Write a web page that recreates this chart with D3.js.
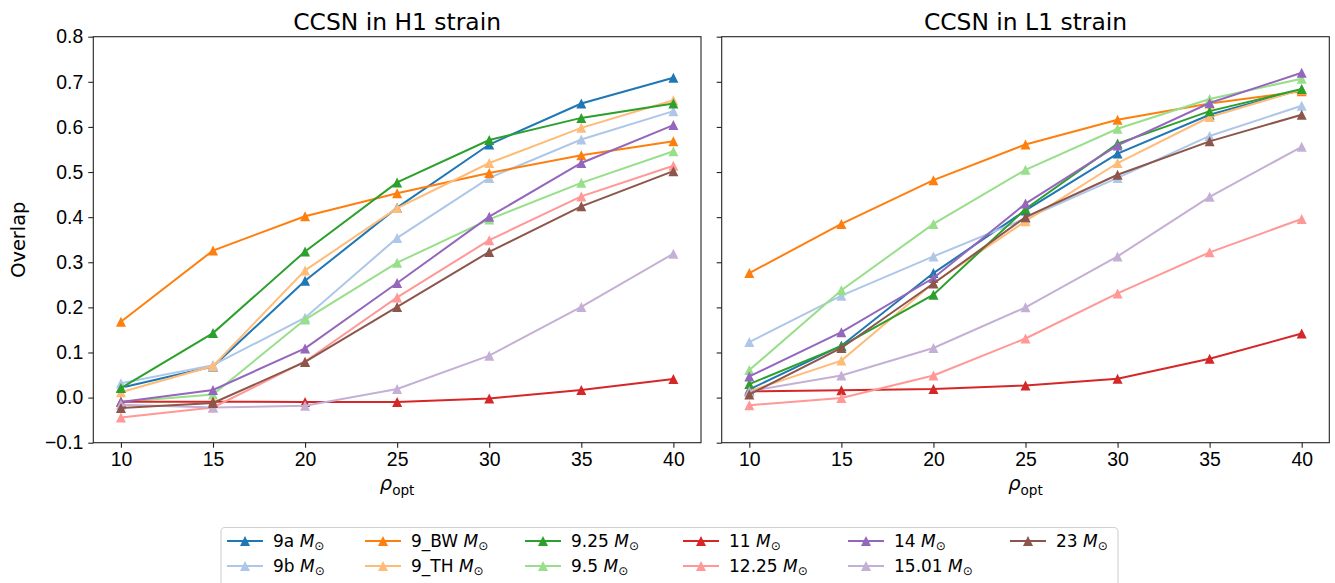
<!DOCTYPE html>
<html>
<head>
<meta charset="utf-8">
<script src="https://cdn.jsdelivr.net/npm/d3@7"></script>
<style>
  body { margin: 0; background: #fff; }
  svg { font-family: "DejaVu Sans", sans-serif; }
</style>
</head>
<body>
<div id="chart"></div>
<script>
// data
var rho = [10, 15, 20, 25, 30, 35, 40];
var models = ["9a", "9b", "9_BW", "9_TH", "9.25", "9.5", "11", "12.25", "14", "15.01", "23"];
var colors = ["#1f77b4", "#aec7e8", "#ff7f0e", "#ffbb78", "#2ca02c", "#98df8a",
  "#d62728", "#ff9896", "#9467bd", "#c5b0d5", "#8c564b"];
var yTicks = [-0.1, 0.0, 0.1, 0.2, 0.3, 0.4, 0.5, 0.6, 0.7, 0.8];
var xTicks = [10, 15, 20, 25, 30, 35, 40];

var overlapH1 = [
  [0.022, 0.069, 0.259, 0.421, 0.561, 0.652, 0.709],
  [0.032, 0.072, 0.177, 0.354, 0.487, 0.572, 0.635],
  [0.168, 0.326, 0.402, 0.453, 0.498, 0.537, 0.568],
  [0.012, 0.070, 0.282, 0.420, 0.520, 0.598, 0.659],
  [0.021, 0.143, 0.324, 0.477, 0.571, 0.620, 0.652],
  [-0.010, 0.007, 0.173, 0.299, 0.395, 0.476, 0.546],
  [-0.009, -0.009, -0.010, -0.010, -0.002, 0.017, 0.041],
  [-0.044, -0.022, 0.080, 0.222, 0.349, 0.446, 0.514],
  [-0.010, 0.017, 0.109, 0.254, 0.401, 0.520, 0.604],
  [-0.016, -0.022, -0.018, 0.019, 0.093, 0.201, 0.319],
  [-0.023, -0.012, 0.079, 0.201, 0.323, 0.424, 0.502]
];

var overlapL1 = [
  [0.018, 0.115, 0.276, 0.415, 0.541, 0.627, 0.683],
  [0.123, 0.226, 0.313, 0.397, 0.487, 0.580, 0.647],
  [0.276, 0.385, 0.482, 0.561, 0.616, 0.652, 0.679],
  [0.014, 0.082, 0.254, 0.391, 0.520, 0.622, 0.683],
  [0.030, 0.114, 0.228, 0.418, 0.563, 0.635, 0.684],
  [0.061, 0.238, 0.385, 0.505, 0.596, 0.662, 0.707],
  [0.014, 0.016, 0.019, 0.027, 0.042, 0.086, 0.142],
  [-0.017, -0.001, 0.049, 0.131, 0.231, 0.322, 0.396],
  [0.047, 0.145, 0.265, 0.430, 0.559, 0.653, 0.720],
  [0.014, 0.049, 0.110, 0.200, 0.313, 0.445, 0.556],
  [0.007, 0.110, 0.253, 0.400, 0.494, 0.568, 0.627]
];

var svgWidth = 1335;
var svgHeight = 583;

var svg = d3.select("#chart")
  .append("svg")
  .attr("width", svgWidth)
  .attr("height", svgHeight);

var plotTop = 36.7, plotBottom = 442.7;
var panels = [
  { left: 93.3, right: 701, title: "CCSN in H1 strain", data: overlapH1, labels: true },
  { left: 721.7, right: 1329.3, title: "CCSN in L1 strain", data: overlapL1, labels: false }
];

var yScale = d3.scaleLinear().domain([-0.1, 0.8]).range([plotBottom, plotTop]);

function tri(s) {
  var h = s / 2;
  return "M0," + (-h) + "L" + h + "," + h + "L" + (-h) + "," + h + "Z";
}

panels.forEach(function(p) {
  var xScale = d3.scaleLinear().domain([8.5, 41.5]).range([p.left, p.right]);
  var g = svg.append("g");

  var xAxis = g.append("g")
    .attr("transform", `translate(0, ${plotBottom})`)
    .call(d3.axisBottom(xScale).tickValues(xTicks).tickFormat(d3.format("d")).tickSize(5).tickPadding(5));
  var yAxis = g.append("g")
    .attr("transform", `translate(${p.left}, 0)`)
    .call(d3.axisLeft(yScale).tickValues(yTicks)
      .tickFormat(p.labels ? (d => d3.format(".1f")(d).replace("-", "\u2212")) : "")
      .tickSize(5).tickPadding(5));
  [xAxis, yAxis].forEach(function(a) {
    a.select(".domain").remove();
    a.selectAll("line").attr("stroke", "#222").attr("stroke-width", 1.1);
    a.selectAll("text").attr("fill", "#000").style("font-size", "19.4px");
  });

  var line = d3.line()
    .x((d, i) => xScale(rho[i]))
    .y(d => yScale(d));

  p.data.forEach(function(vals, k) {
    g.append("path")
      .datum(vals)
      .attr("fill", "none")
      .attr("stroke", colors[k])
      .attr("stroke-width", 2)
      .attr("d", line);
    g.selectAll(null)
      .data(vals)
      .enter()
      .append("path")
      .attr("d", tri(10))
      .attr("transform", (d, i) => `translate(${xScale(rho[i])}, ${yScale(d)})`)
      .attr("fill", colors[k]);
  });

  g.append("rect")
    .attr("x", p.left)
    .attr("y", plotTop)
    .attr("width", p.right - p.left)
    .attr("height", plotBottom - plotTop)
    .attr("fill", "none")
    .attr("stroke", "#222")
    .attr("stroke-width", 1.1);

  g.append("text")
    .attr("x", (p.left + p.right) / 2)
    .attr("y", 29.5)
    .attr("text-anchor", "middle")
    .style("font-size", "23.4px")
    .text(p.title);

  var xl = g.append("text")
    .attr("x", (p.left + p.right) / 2)
    .attr("y", 490)
    .attr("text-anchor", "middle")
    .style("font-size", "19.4px");
  xl.append("tspan").style("font-style", "italic").text("\u03c1");
  xl.append("tspan").attr("dy", 4.5).style("font-size", "13.6px").text("opt");
});

svg.append("text")
  .attr("transform", `translate(25, ${(plotTop + plotBottom) / 2}) rotate(-90)`)
  .attr("text-anchor", "middle")
  .style("font-size", "19.4px")
  .text("Overlap");

// legend
var legend = svg.append("g");
legend.append("rect")
  .attr("x", 221)
  .attr("y", 527.5)
  .attr("width", 897)
  .attr("height", 62)
  .attr("rx", 4)
  .attr("fill", "#fff")
  .attr("stroke", "#d0d0d0")
  .attr("stroke-width", 1.1);

var colX = [227, 365, 525, 683, 848, 1010];
var rowY = [541, 566];
models.forEach(function(m, k) {
  var cx = colX[Math.floor(k / 2)];
  var cy = rowY[k % 2];
  var item = legend.append("g").attr("transform", `translate(${cx}, ${cy})`);
  item.append("line")
    .attr("x1", 0).attr("x2", 36)
    .attr("stroke", colors[k]).attr("stroke-width", 2);
  item.append("path")
    .attr("d", tri(10))
    .attr("transform", "translate(18, 0)")
    .attr("fill", colors[k]);
  var t = item.append("text")
    .attr("x", 46)
    .attr("y", 6)
    .style("font-size", "17px");
  t.append("tspan").text(m + " ");
  t.append("tspan").style("font-style", "italic").text("M");
  t.append("tspan").attr("dy", 3).style("font-size", "12px").text("\u2299");
});
</script>
</body>
</html>
